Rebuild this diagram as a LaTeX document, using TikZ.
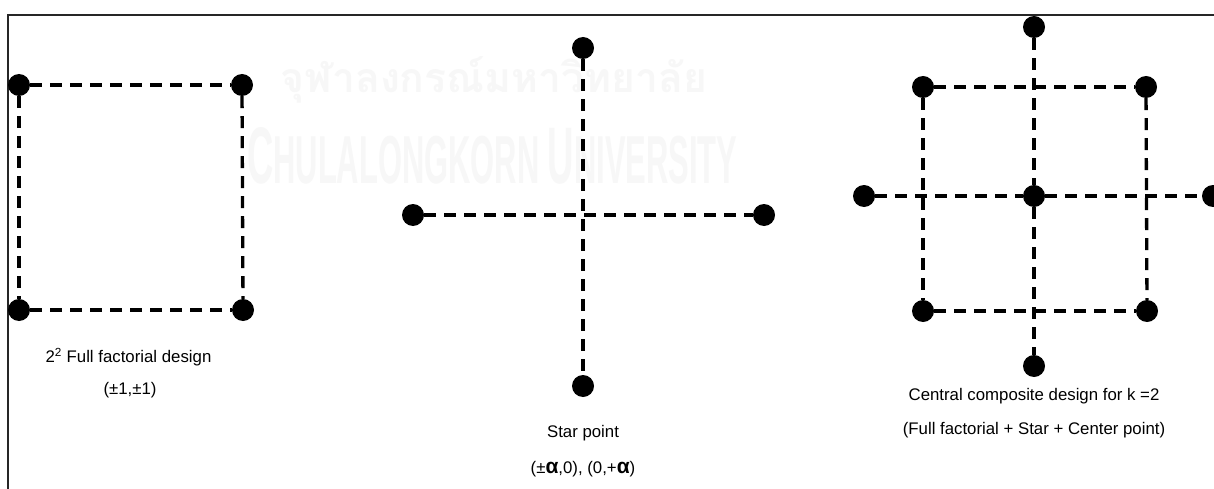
\documentclass[tikz,border=0pt]{standalone}
\usepackage{fontspec}
\setmainfont{Liberation Sans}
\newfontfamily\thaifont[Script=Thai]{Loma}
\begin{document}
\begin{tikzpicture}[x=1pt,y=-1pt,
  dot/.style={circle,fill=black,inner sep=0pt,minimum size=22pt},
  conn/.style={line width=3.3pt,dash pattern=on 12pt off 8pt},
  lbl/.style={font=\fontsize{16.8}{18}\selectfont,inner sep=0pt,anchor=center},
  wm/.style={text=black!3,inner sep=0pt},
  frame/.style={line width=1.8pt,draw=black!85}]
\useasboundingbox (0,0) rectangle (1214,489);
\fill[white] (0,0) rectangle (1214,489);
% watermark
\node[wm,anchor=base west] (wmth) at (280,93)
  {\resizebox{427pt}{!}{\thaifont\bfseries\fontsize{60}{60}\selectfont จุฬาลงกรณ์มหาวิทยาลัย}};
\node[wm,anchor=base west] (wmen) at (247,183)
  {\resizebox{490pt}{56pt}{\bfseries\fontsize{78}{78}\selectfont C\fontsize{66}{66}\selectfont HULALONGKORN \fontsize{78}{78}\selectfont U\fontsize{66}{66}\selectfont NIVERSITY}};
% frame
\draw[frame] (8,489) -- (8,15) -- (1214,15);
% 2^2 factorial
\node[dot] (a1) at (19,85) {};
\node[dot] (a2) at (242,85) {};
\node[dot] (a3) at (19,310) {};
\node[dot] (a4) at (243,310) {};
\draw[conn] (a1) -- (a2);
\draw[conn] (a3) -- (a4);
\draw[conn] (a1) -- (a3);
\draw[conn] (a2) -- (a4);
\node[lbl] (t1) at (128.5,357) {2\textsuperscript{2} Full factorial design};
\node[lbl] (t2) at (130,390) {(±1,±1)};
% star
\node[dot] (s1) at (583,48) {};
\node[dot] (s2) at (583,386) {};
\node[dot] (s3) at (413,215) {};
\node[dot] (s4) at (764,215) {};
\draw[conn] (s1) -- (s2);
\draw[conn] (s3) -- (s4);
\node[lbl] (u1) at (583,433) {Star point};
\node[lbl] (u2) at (583,469) {(±{\bfseries\fontsize{21}{21}\selectfont α},0), (0,+{\bfseries\fontsize{21}{21}\selectfont α})};
% central composite
\node[dot] (c0) at (1034,196) {};
\node[dot] (ct) at (1034,27) {};
\node[dot] (cb) at (1034,366) {};
\node[dot] (cl) at (864,196) {};
\node[dot] (cr) at (1213,196) {};
\node[dot] (c1) at (923,87) {};
\node[dot] (c2) at (1146,87) {};
\node[dot] (c3) at (923,311) {};
\node[dot] (c4) at (1147,311) {};
\draw[conn] (c1) -- (c2);
\draw[conn] (c3) -- (c4);
\draw[conn] (c1) -- (c3);
\draw[conn] (c2) -- (c4);
\draw[conn] (ct) -- (c0);
\draw[conn] (c0) -- (cb);
\draw[conn] (cl) -- (c0);
\draw[conn] (c0) -- (cr);
\node[lbl] (v1) at (1034,396) {Central composite design for k =2};
\node[lbl] (v2) at (1034,430) {(Full factorial + Star + Center point)};
\end{tikzpicture}
\end{document}
